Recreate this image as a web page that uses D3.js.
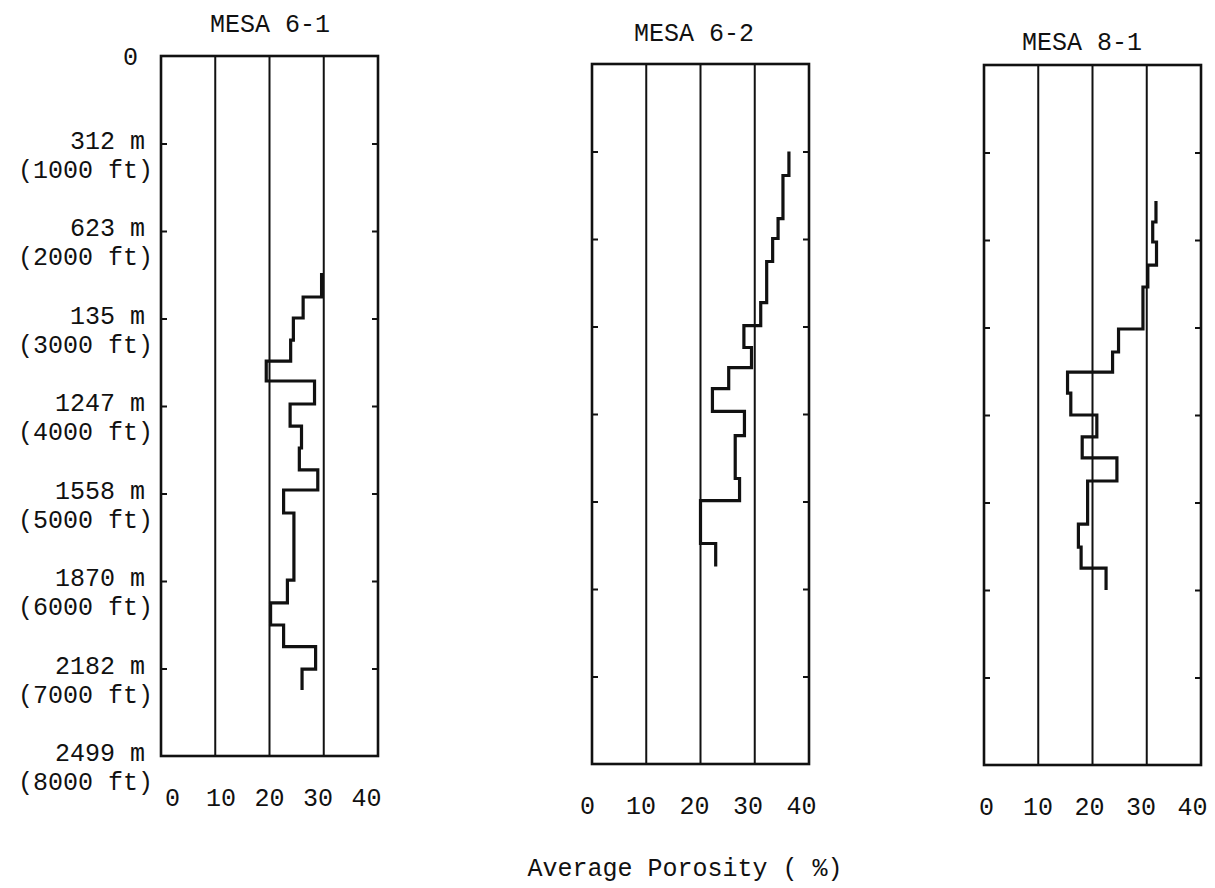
<!DOCTYPE html>
<html>
<head>
<meta charset="utf-8">
<script src="https://cdn.jsdelivr.net/npm/d3@7/dist/d3.min.js"></script>
<style>
  html, body { margin: 0; padding: 0; background: #fff; }
  svg { display: block; }
  text { font-family: "Liberation Mono", "DejaVu Sans Mono", monospace; fill: #111; }
</style>
</head>
<body>
<svg id="chart" width="1215" height="888"></svg>
<script>
// Well names
const wellNames = ["MESA 6-1", "MESA 6-2", "MESA 8-1"];

// Interval boundaries (depth, ft) and average porosity (%) of each interval
const depth61 = [2480, 2754, 2994, 3246, 3486, 3714, 3977, 4229, 4480, 4731, 4960, 5223, 5989, 6251, 6503, 6750, 7006, 7246];
const poro61  = [29.6, 26.2, 24.4, 23.9, 19.4, 28.3, 23.8, 25.9, 25.5, 28.9, 22.6, 24.5, 23.3, 20.2, 22.6, 28.5, 26.0];

const depth62 = [1000, 1274, 1766, 1994, 2257, 2726, 2989, 3240, 3469, 3709, 3971, 4246, 4737, 4989, 5480, 5743];
const poro62  = [36.3, 35.2, 34.3, 33.3, 32.2, 31.1, 28.0, 29.4, 25.2, 22.2, 28.1, 26.4, 27.2, 20.0, 22.8];

const depth81 = [1554, 1794, 2023, 2286, 2537, 3017, 3280, 3509, 3749, 4000, 4251, 4491, 4754, 5246, 5509, 5749, 6000];
const poro81  = [31.7, 31.1, 31.8, 30.2, 29.3, 24.8, 23.7, 15.4, 16.0, 20.8, 18.1, 24.5, 19.1, 17.4, 17.9, 22.5];

// Axis values and labels
const porosityTicks = [0, 10, 20, 30, 40];
const gridValues = [10, 20, 30];
const depthTicks = [0, 1000, 2000, 3000, 4000, 5000, 6000, 7000, 8000];
const depthMetreLabels = ["0", "312 m", "623 m", "135 m", "1247 m", "1558 m", "1870 m", "2182 m", "2499 m"];
const depthFeetLabels = ["", "(1000 ft)", "(2000 ft)", "(3000 ft)", "(4000 ft)", "(5000 ft)", "(6000 ft)", "(7000 ft)", "(8000 ft)"];
const xAxisTitle = "Average Porosity ( %)";

const wellDepths = [depth61, depth62, depth81];
const wellPorosity = [poro61, poro62, poro81];

// Panel layout
const panelLeft = [161, 592, 984];
const panelTop = [56, 64, 65];
const panelWidth = 217;
const panelHeight = 700;
const titleX = [270, 694, 1082];
const titleY = [32, 41, 50];
// typed porosity labels sit on a slightly narrower span than the frame
const labelSpan = [[172, 366], [587, 801], [986, 1192]];

const svg = d3.select("#chart");
const ink = "#111";
const fs = 25;

wellNames.forEach((name, i) => {
  const x = d3.scaleLinear().domain([0, 40]).range([panelLeft[i], panelLeft[i] + panelWidth]);
  const xl = d3.scaleLinear().domain([0, 40]).range(labelSpan[i]);
  const y = d3.scaleLinear().domain([0, 8000]).range([panelTop[i], panelTop[i] + panelHeight]);
  const g = svg.append("g");

  // vertical grid lines
  g.selectAll("line.grid").data(gridValues).join("line")
    .attr("class", "grid")
    .attr("x1", d => x(d)).attr("x2", d => x(d))
    .attr("y1", y(0)).attr("y2", y(8000))
    .attr("stroke", ink).attr("stroke-width", 2);

  // inward depth ticks on both sides
  const inner = depthTicks.slice(1, -1);
  g.append("g").attr("transform", `translate(${x(0)},0)`)
    .call(d3.axisRight(y).tickValues(inner).tickSize(6).tickFormat(""))
    .call(a => a.select(".domain").remove())
    .call(a => a.selectAll("line").attr("stroke", ink).attr("stroke-width", 2));
  g.append("g").attr("transform", `translate(${x(40)},0)`)
    .call(d3.axisLeft(y).tickValues(inner).tickSize(6).tickFormat(""))
    .call(a => a.select(".domain").remove())
    .call(a => a.selectAll("line").attr("stroke", ink).attr("stroke-width", 2));

  // frame
  g.append("rect")
    .attr("x", x(0)).attr("y", y(0))
    .attr("width", x(40) - x(0)).attr("height", y(8000) - y(0))
    .attr("fill", "none").attr("stroke", ink).attr("stroke-width", 2.6);

  // porosity labels
  g.append("g").attr("transform", `translate(0,${y(8000) + 50})`)
    .call(d3.axisBottom(xl).tickValues(porosityTicks).tickSize(0).tickPadding(0))
    .call(a => a.select(".domain").remove())
    .call(a => a.selectAll("text")
      .attr("font-size", fs).attr("font-family", "Liberation Mono").attr("fill", ink).attr("dy", 0));

  // step profile: vertical run over each interval, horizontal jump at boundaries
  const depths = wellDepths[i], poro = wellPorosity[i];
  const pts = [];
  poro.forEach((p, k) => {
    pts.push([p, depths[k]]);
    pts.push([p, depths[k + 1]]);
  });
  g.append("path")
    .attr("d", d3.line().x(d => x(d[0])).y(d => y(d[1]))(pts))
    .attr("fill", "none").attr("stroke", ink).attr("stroke-width", 3.2)
    .attr("stroke-linejoin", "miter");

  // title
  svg.append("text")
    .attr("x", titleX[i]).attr("y", titleY[i])
    .attr("text-anchor", "middle").attr("font-size", fs)
    .text(name);

  // depth labels on first panel only
  if (i === 0) {
    depthTicks.forEach((d, k) => {
      const ty = y(d);
      svg.append("text")
        .attr("x", k === 0 ? 138 : 145).attr("y", k === 0 ? ty + 9 : ty + 5)
        .attr("text-anchor", "end").attr("font-size", fs)
        .text(depthMetreLabels[k]);
      if (depthFeetLabels[k]) {
        svg.append("text")
          .attr("x", 153).attr("y", ty + 34)
          .attr("text-anchor", "end").attr("font-size", fs)
          .text(depthFeetLabels[k]);
      }
    });
  }
});

// shared x-axis title
svg.append("text")
  .attr("x", 685).attr("y", 876)
  .attr("text-anchor", "middle").attr("font-size", fs)
  .text(xAxisTitle);
</script>
</body>
</html>
